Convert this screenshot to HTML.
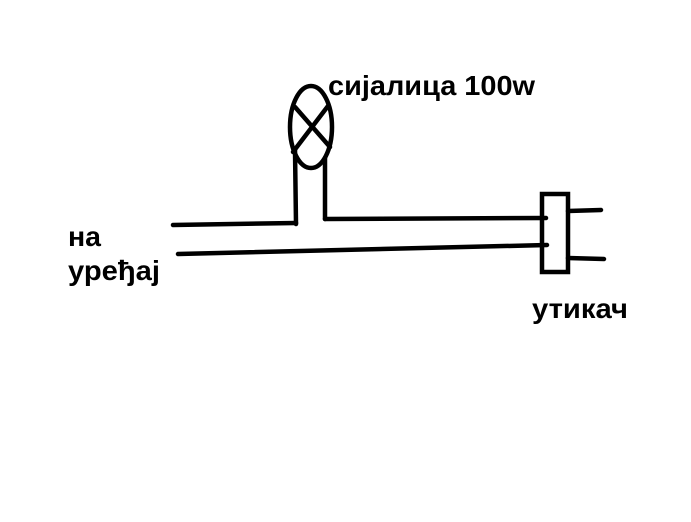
<!DOCTYPE html>
<html><head><meta charset="utf-8"><style>
html,body{margin:0;padding:0;background:#fff;width:691px;height:522px;overflow:hidden}
svg{display:block}
text{font-family:"Liberation Sans","DejaVu Sans",sans-serif;font-weight:bold;font-size:28px;fill:#000}
</style></head><body>
<svg width="691" height="522" viewBox="0 0 691 522" xmlns="http://www.w3.org/2000/svg">
<g stroke="#000" stroke-width="4.5" fill="none" stroke-linecap="round">
<ellipse cx="311" cy="127" rx="21" ry="41"/>
<line x1="295" y1="107" x2="330" y2="147"/>
<line x1="328" y1="106" x2="293" y2="152"/>
<line x1="295" y1="150" x2="296" y2="224"/>
<line x1="325" y1="158" x2="325" y2="219"/>
<line x1="173" y1="225" x2="296" y2="223"/>
<line x1="325" y1="219" x2="546" y2="218"/>
<line x1="178" y1="254" x2="547" y2="245"/>
<rect x="542" y="194" width="26" height="78"/>
<line x1="568" y1="211" x2="601" y2="210"/>
<line x1="568" y1="258" x2="604" y2="259"/>
</g>
<text x="328" y="95" textLength="207" lengthAdjust="spacingAndGlyphs">сијалица 100w</text>
<text x="68" y="246" textLength="33" lengthAdjust="spacingAndGlyphs">на</text>
<text x="68" y="280" textLength="92" lengthAdjust="spacingAndGlyphs">уређај</text>
<text x="532" y="318" textLength="96" lengthAdjust="spacingAndGlyphs">утикач</text>
</svg>
</body></html>
